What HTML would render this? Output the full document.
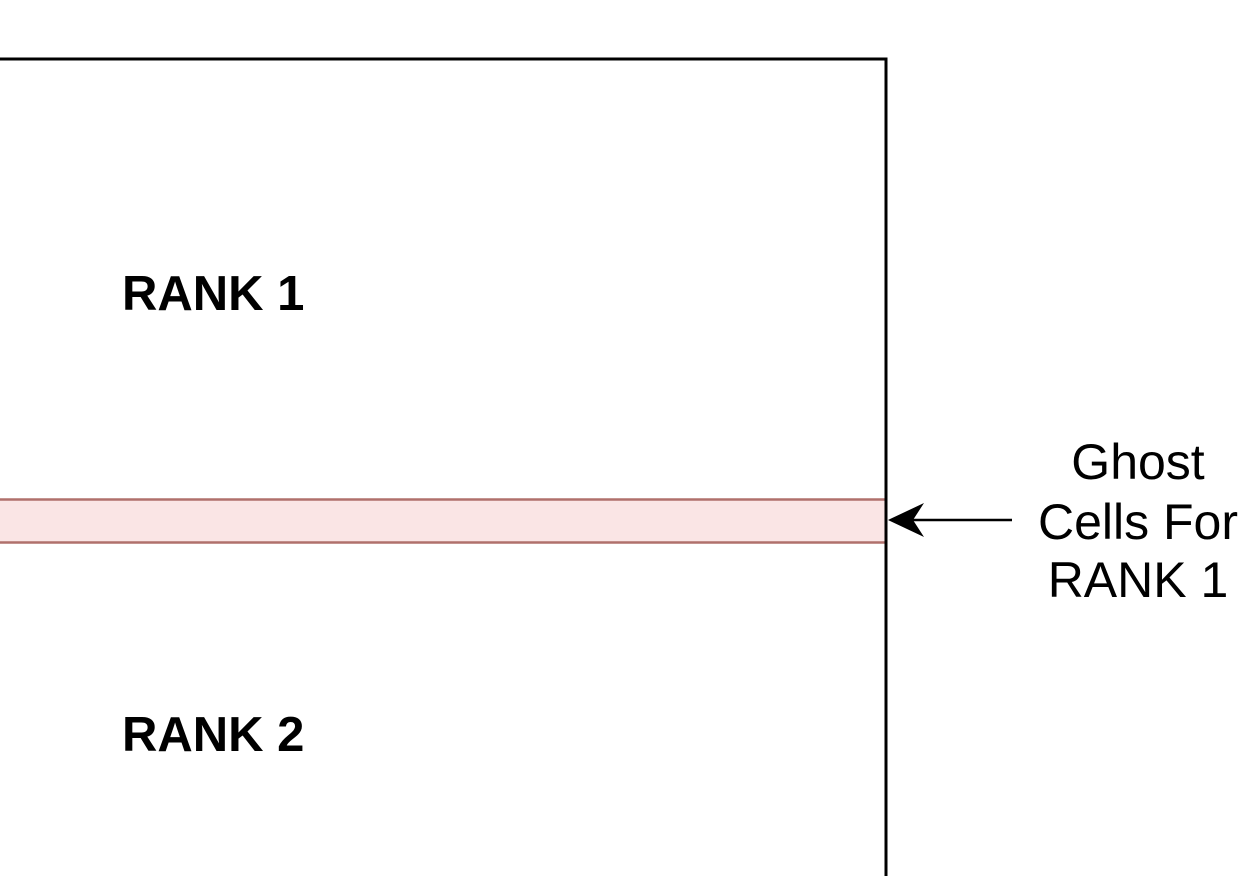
<!DOCTYPE html>
<html><head><meta charset="utf-8"><style>
html,body{margin:0;padding:0;background:#fff;width:1254px;height:876px;overflow:hidden}
svg{display:block}
</style></head><body>
<svg width="1254" height="876" xmlns="http://www.w3.org/2000/svg">
<path d="M0,59 L886,59 L886,876" fill="none" stroke="#000" stroke-width="3"/>
<rect x="-10" y="499.5" width="896" height="43" fill="#fae5e5" stroke="#b0706c" stroke-width="2.5"/>
<line x1="886" y1="59" x2="886" y2="876" stroke="#000" stroke-width="3"/>
<line x1="1012" y1="520" x2="900" y2="520" stroke="#000" stroke-width="2.5"/>
<path d="M888,520 L924,503 L913,520 L924,537 Z" fill="#000"/>
<g font-family="Liberation Sans, sans-serif" font-weight="bold" font-size="49" fill="#000">
<text x="122" y="310">RANK 1</text>
<text x="122" y="751">RANK 2</text>
</g>
<g font-family="Liberation Sans, sans-serif" font-size="50" fill="#000" text-anchor="middle">
<text x="1138" y="479">Ghost</text>
<text x="1138" y="539">Cells For</text>
<text x="1138" y="597">RANK 1</text>
</g>
</svg>
</body></html>
